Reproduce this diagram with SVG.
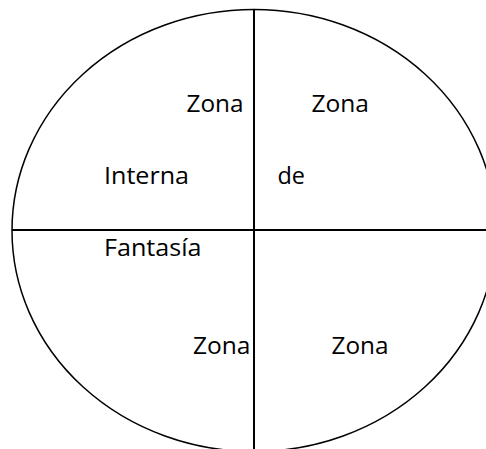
<svg xmlns="http://www.w3.org/2000/svg" width="486" height="449" viewBox="0 0 486 449">
<style>
.outline{fill:none;stroke:#000;stroke-width:1.5}
.divider{fill:none;stroke:#000;stroke-width:2}
.lbl{font-family:"Open Sans","Liberation Sans",sans-serif;font-size:24px;fill:#000}
</style>
<rect width="486" height="449" fill="#fff"/>
<g id="circle">
<ellipse class="outline" cx="254" cy="230.5" rx="242" ry="221"/>
</g>
<g id="connectors">
<line class="divider" x1="254" y1="9.5" x2="254" y2="449"/>
<line class="divider" x1="12" y1="230" x2="486" y2="230"/>
</g>
<g id="labels">
<text class="lbl" x="186.5" y="112" textLength="57" lengthAdjust="spacingAndGlyphs">Zona</text>
<text class="lbl" x="311.5" y="112" textLength="57.5" lengthAdjust="spacingAndGlyphs">Zona</text>
<text class="lbl" x="104" y="184" textLength="85" lengthAdjust="spacingAndGlyphs">Interna</text>
<text class="lbl" x="277.5" y="184" textLength="27.5" lengthAdjust="spacingAndGlyphs">de</text>
<text class="lbl" x="104" y="256" textLength="97.5" lengthAdjust="spacingAndGlyphs">Fantasía</text>
<text class="lbl" x="193" y="354" textLength="57.5" lengthAdjust="spacingAndGlyphs">Zona</text>
<text class="lbl" x="331.5" y="354" textLength="57" lengthAdjust="spacingAndGlyphs">Zona</text>
</g>
</svg>
